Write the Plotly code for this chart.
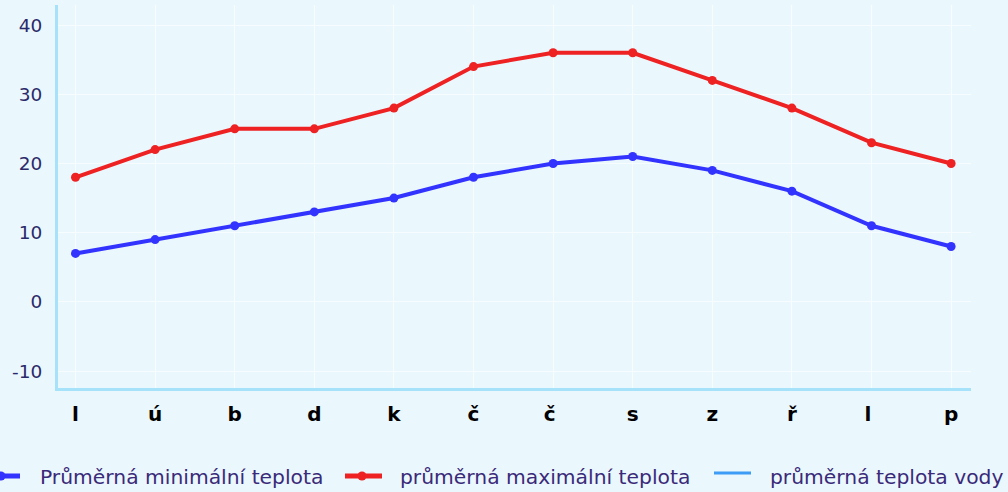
import plotly.graph_objects as go

months = ["l", "ú", "b", "d", "k", "č", "č ", "s", "z", "ř", "l ", "p"]
tmin = [7, 9, 11, 13, 15, 18, 20, 21, 19, 16, 11, 8]
tmax = [18, 22, 25, 25, 28, 34, 36, 36, 32, 28, 23, 20]
twater = []

yticks = [-10, 0, 10, 20, 30, 40]
ytext = ["-10", "0", "10", "20", "30", "40"]

names = ["Průměrná minimální teplota", "průměrná maximální teplota", "průměrná teplota vody"]
colors = ["#3333ff", "#ee2222", "#3d9cf5"]
BG = "#eaf7fd"

W, H = 1008, 492
ML, MR, MT = 58, 37, 5
PH = 383
MB = H - MT - PH
PW = W - ML - MR


def px(X):
    return (X - ML) / PW


def py(Y):
    return (MT + PH - Y) / PH


fig = go.Figure()
fig.add_trace(go.Scatter(x=months, y=tmin, mode="lines+markers", name=names[0],
                         line=dict(color=colors[0], width=4), marker=dict(size=9, color=colors[0])))
fig.add_trace(go.Scatter(x=months, y=tmax, mode="lines+markers", name=names[1],
                         line=dict(color=colors[1], width=4), marker=dict(size=9, color=colors[1])))
fig.add_trace(go.Scatter(x=months, y=twater if twater else [None] * len(months), mode="lines",
                         name=names[2], line=dict(color=colors[2], width=3)))

# manual legend (symbols + text), positions in window pixels
leg = [
    dict(x0=-17, x1=20, m=1, y=476, tx=38, w=5, marker=True),
    dict(x0=345, x1=382, m=362, y=476, tx=398, w=5, marker=True),
    dict(x0=714, x1=751, m=None, y=473, tx=768, w=3, marker=False),
]
shapes = []
annotations = []
for i, L in enumerate(leg):
    shapes.append(dict(type="line", xref="paper", yref="paper",
                       x0=px(L["x0"]), x1=px(L["x1"]), y0=py(L["y"]), y1=py(L["y"]),
                       line=dict(color=colors[i], width=L["w"])))
    if L["marker"]:
        r = 4.5
        shapes.append(dict(type="circle", xref="paper", yref="paper",
                           x0=px(L["m"] - r), x1=px(L["m"] + r),
                           y0=py(L["y"] + r), y1=py(L["y"] - r),
                           fillcolor=colors[i], line=dict(color=colors[i], width=0)))
    annotations.append(dict(text=names[i], xref="paper", yref="paper", x=px(L["tx"]), y=py(477),
                            xanchor="left", yanchor="middle", showarrow=False,
                            font=dict(family="DejaVu Sans", size=20.3, color="#3a2a7a")))

fig.update_layout(
    width=W, height=H,
    margin=dict(l=ML, r=MR, t=MT, b=MB),
    paper_bgcolor=BG, plot_bgcolor=BG,
    font=dict(family="DejaVu Sans", size=18, color="#2a2a6a"),
    showlegend=False,
    hovermode=False,
    shapes=shapes,
    annotations=annotations,
    xaxis=dict(type="category", range=[-0.22, 11.25], showline=True, linecolor="#a6e3fa", linewidth=3,
               showgrid=True, gridcolor="#f7fcfe", gridwidth=1, ticks="", automargin=False,
               ticklabelstandoff=6,
               tickfont=dict(family="DejaVu Sans", size=20, color="#000000", weight="bold"), zeroline=False),
    yaxis=dict(range=[-12.45, 42.9], showline=True, linecolor="#a6e3fa", linewidth=3,
               showgrid=True, gridcolor="#f7fcfe", gridwidth=1, tickvals=yticks, ticktext=ytext,
               ticks="", zeroline=False, automargin=False, ticklabelstandoff=9,
               tickfont=dict(size=18.5, color="#2a2a6a")),
)
fig.write_html("out.html",
               config={"displayModeBar": False},
               post_script="document.body.style.margin='0';document.body.style.overflow='hidden';"
                           "document.body.style.background='" + BG + "';")
